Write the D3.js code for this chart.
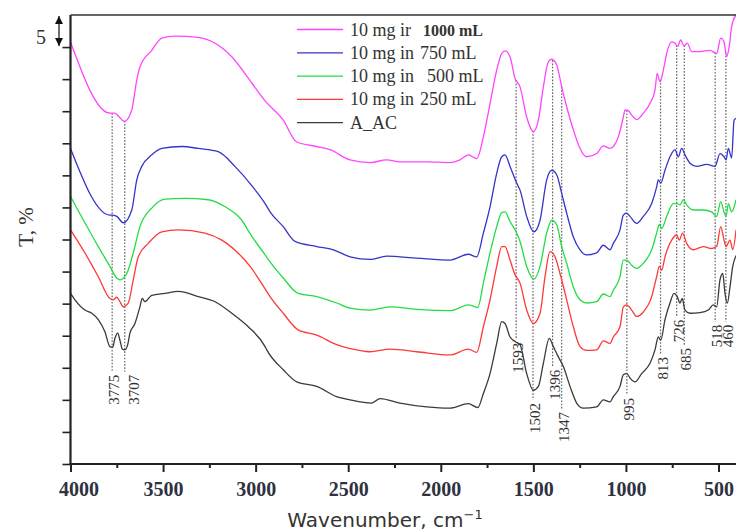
<!DOCTYPE html>
<html>
<head>
<meta charset="utf-8">
<script src="https://cdn.jsdelivr.net/npm/d3@7"></script>
<style>
  body { margin: 0; background: #fff; }
  svg { display: block; }
</style>
</head>
<body>
<svg id="drawing_region"></svg>
<script>
// spectra: [wavenumber cm-1, T %] (curves are stacked)
const s1000 = [[4000,65.8],[3787,54.7],[3776,54.7],[3760,54.7],[3743,54.3],[3709,53.4],[3669,55.2],[3642,59.9],[3625,61.9],[3561,64.5],[3507,66.4],[3436,66.7],[3311,66.5],[3219,65.6],[3129,63.5],[3021,59.4],[2949,56.6],[2851,53.6],[2778,50.2],[2670,49.5],[2598,49.0],[2490,47.4],[2382,47.0],[2292,47.4],[2220,47.1],[2076,47.1],[1950,47.0],[1896,47.4],[1851,48.2],[1806,47.6],[1770,51.0],[1734,56.2],[1698,61.4],[1671,64.0],[1653,64.4],[1626,63.5],[1599,60.1],[1572,58.8],[1536,54.1],[1500,51.8],[1473,53.6],[1446,58.8],[1419,62.7],[1401,63.1],[1374,62.2],[1347,58.8],[1320,55.7],[1284,52.1],[1248,49.2],[1212,47.9],[1158,48.4],[1122,49.6],[1086,49.2],[1068,49.5],[1041,51.0],[1014,54.1],[1005,55.2],[987,55.1],[969,54.4],[942,53.7],[906,54.7],[870,56.2],[843,58.3],[831,60.9],[816,59.6],[798,61.4],[780,64.0],[753,65.8],[735,65.6],[721,65.1],[704,66.1],[687,65.2],[669,65.6],[645,64.3],[600,64.3],[546,64.5],[510,64.0],[488,66.4],[470,65.8],[456,63.5],[442,65.1],[429,68.2],[405,70.0]];
const s750 = [[4000,49.2],[3787,38.8],[3776,38.8],[3750,38.6],[3715,37.6],[3669,39.6],[3642,44.3],[3615,46.4],[3561,48.2],[3507,49.2],[3399,49.5],[3310,49.2],[3202,48.7],[3112,46.4],[3021,43.4],[2949,40.6],[2922,39.3],[2851,37.0],[2787,34.7],[2670,33.9],[2580,33.4],[2490,32.3],[2382,31.9],[2292,32.4],[2130,32.1],[1950,31.8],[1851,32.7],[1806,32.3],[1770,36.0],[1734,40.1],[1698,45.3],[1671,47.9],[1653,48.2],[1626,46.4],[1590,43.8],[1572,42.7],[1536,38.6],[1497,36.2],[1464,38.0],[1428,44.3],[1401,45.8],[1374,45.1],[1347,42.2],[1320,39.1],[1284,35.4],[1248,33.4],[1212,32.6],[1158,32.9],[1122,34.1],[1086,33.4],[1068,34.4],[1032,36.5],[1014,38.8],[996,39.1],[978,38.6],[942,37.5],[906,38.6],[861,40.6],[834,43.2],[825,44.3],[812,43.8],[789,45.8],[762,47.9],[735,49.0],[717,47.9],[699,49.2],[681,48.2],[654,46.9],[618,46.4],[564,46.7],[519,46.4],[492,48.4],[470,47.9],[459,47.4],[447,49.2],[429,47.7],[416,53.6],[405,53.9]];
const s500 = [[4000,41.7],[3850,33.9],[3787,30.8],[3750,29.0],[3733,28.7],[3696,29.7],[3661,32.9],[3625,37.0],[3561,39.9],[3490,41.3],[3382,41.4],[3256,41.2],[3165,40.1],[3075,38.0],[3030,35.9],[2949,32.6],[2922,31.5],[2851,29.0],[2770,26.6],[2670,26.1],[2562,25.1],[2490,24.3],[2382,24.0],[2274,24.5],[2130,24.1],[1950,23.9],[1851,24.8],[1800,24.4],[1770,28.2],[1734,32.9],[1698,37.0],[1671,39.2],[1653,39.3],[1626,37.8],[1590,36.0],[1572,34.7],[1536,30.8],[1497,28.8],[1464,30.8],[1428,36.0],[1401,38.0],[1374,37.3],[1347,33.9],[1320,31.3],[1284,27.6],[1248,25.6],[1212,25.1],[1158,25.3],[1122,26.5],[1086,26.1],[1068,27.1],[1032,29.2],[1014,31.8],[996,31.8],[969,31.0],[942,30.5],[906,31.3],[861,33.4],[834,36.0],[820,37.3],[807,36.7],[780,38.6],[744,40.6],[723,40.6],[708,40.4],[690,41.2],[672,40.4],[636,39.6],[582,39.6],[537,39.3],[510,38.6],[488,40.9],[470,39.3],[459,38.6],[447,40.6],[429,39.3],[405,41.2]];
const s250 = [[4000,36.5],[3922,32.9],[3850,29.2],[3787,25.8],[3769,25.6],[3750,26.0],[3733,25.3],[3715,24.5],[3688,25.1],[3661,28.7],[3634,32.3],[3580,34.4],[3507,36.2],[3418,36.5],[3274,36.0],[3183,34.9],[3075,32.3],[3030,30.8],[2949,27.3],[2922,26.1],[2851,23.5],[2770,20.9],[2670,20.1],[2562,18.6],[2490,18.0],[2382,17.5],[2274,17.9],[2130,17.5],[1950,17.0],[1851,17.9],[1806,17.4],[1770,21.4],[1734,25.6],[1698,30.8],[1671,33.9],[1653,33.9],[1626,31.8],[1599,29.5],[1572,28.2],[1536,24.0],[1500,21.9],[1464,23.5],[1437,29.2],[1410,33.1],[1383,32.3],[1356,29.7],[1320,25.6],[1284,21.4],[1248,18.3],[1212,17.7],[1158,17.8],[1122,19.2],[1086,18.8],[1068,19.8],[1032,21.4],[1014,24.5],[996,24.8],[969,24.0],[942,23.0],[906,23.7],[861,26.1],[834,29.2],[820,30.8],[807,30.2],[789,32.3],[753,34.9],[726,35.7],[712,34.9],[694,36.0],[672,34.4],[636,33.4],[582,33.9],[537,33.6],[510,33.9],[488,37.0],[470,34.9],[459,33.9],[438,34.9],[423,33.4],[405,36.5]];
const sAAC = [[4000,26.6],[3976,25.6],[3922,24.0],[3885,23.5],[3850,22.5],[3814,20.6],[3787,18.3],[3772,18.2],[3760,19.6],[3745,20.4],[3733,19.3],[3720,17.9],[3706,17.8],[3691,18.6],[3679,20.4],[3652,21.9],[3625,24.5],[3612,25.8],[3598,25.3],[3561,26.3],[3490,26.6],[3418,26.9],[3310,26.1],[3219,25.3],[3129,23.5],[3040,21.4],[2949,18.3],[2940,17.8],[2851,14.7],[2778,12.8],[2670,12.1],[2562,10.5],[2490,10.0],[2373,9.5],[2328,10.2],[2220,9.5],[2076,8.9],[1950,8.7],[1851,9.4],[1800,8.8],[1770,11.0],[1734,14.1],[1698,18.8],[1671,22.2],[1653,21.9],[1626,19.8],[1599,19.1],[1572,18.6],[1536,14.1],[1500,11.5],[1473,12.1],[1446,15.7],[1414,19.6],[1392,18.3],[1365,16.7],[1338,15.2],[1302,12.1],[1266,9.5],[1230,8.7],[1158,8.9],[1122,10.0],[1086,9.7],[1068,10.5],[1032,12.1],[1014,13.9],[996,14.1],[978,13.4],[951,12.8],[915,14.1],[870,15.7],[843,17.8],[825,19.8],[812,19.3],[789,22.5],[762,25.1],[740,26.6],[723,26.1],[708,25.1],[696,25.8],[681,24.0],[654,23.5],[600,23.6],[555,24.0],[528,24.8],[510,24.5],[492,28.7],[477,29.7],[465,26.6],[452,25.1],[438,27.6],[423,30.8],[405,32.5]];

const seriesNames = ['10 mg ir 1000 mL', '10 mg in 750 mL', '10 mg in 500 mL', '10 mg in 250 mL', 'A_AC'];
const seriesData = [s1000, s750, s500, s250, sAAC];
const seriesColors = ['#ff44ff', '#3434c8', '#22dd44', '#ff3838', '#3a3a3a'];

// marked bands and the T level where each rotated label starts
const peakWn = [3775, 3707, 1593, 1502, 1396, 1347, 995, 813, 726, 685, 518, 460];
const peakLabelT = [13.9, 13.9, 18.9, 9.5, 14.7, 8.1, 10.3, 16.7, 22.5, 18.1, 21.7, 21.7];

const xMajor = [4000, 3500, 3000, 2500, 2000, 1500, 1000, 500];
const xMinor = [3750, 3250, 2750, 2250, 1750, 1250, 750];
const yTicks = d3.range(0, 70, 5);

const config = {
    width: 736,
    height: 531,
    left: 70.5, right: 718.5, top: 15, bottom: 464
};

const svg = d3.select('#drawing_region')
    .attr('width', config.width)
    .attr('height', config.height);

const x = d3.scaleLinear().domain([4000, 500]).range([config.left, config.right]);
const y = d3.scaleLinear().domain([0, 70]).range([config.bottom, config.top]);

// dotted band markers, from the top spectrum down to the label
const topSpectrum = s1000.slice().reverse();
const bis = d3.bisector(d => d[0]).left;
function topAt(w) {
    const i = bis(topSpectrum, w);
    const a = topSpectrum[i - 1], b = topSpectrum[i];
    const t = (w - a[0]) / (b[0] - a[0]);
    return a[1] + t * (b[1] - a[1]);
}

const marks = svg.append('g');
peakWn.forEach((w, i) => {
    marks.append('line')
        .attr('x1', x(w)).attr('x2', x(w))
        .attr('y1', y(topAt(w)))
        .attr('y2', y(peakLabelT[i]) - 3)
        .attr('stroke', '#666')
        .attr('stroke-width', 1.2)
        .attr('stroke-dasharray', '1.6,1.6');
    const nudge = w === 3707 ? 9 : 2;
    marks.append('text')
        .attr('transform', `translate(${x(w) + nudge},${y(peakLabelT[i])}) rotate(-90)`)
        .attr('text-anchor', 'end')
        .attr('dy', '0.35em')
        .attr('font-family', 'Liberation Serif, serif')
        .attr('font-size', '15px')
        .attr('fill', '#333')
        .text(w);
});

// spectra
const line = d3.line()
    .x(d => x(d[0]))
    .y(d => y(d[1]))
    .curve(d3.curveMonotoneX);

svg.append('g').selectAll('path')
    .data(seriesData)
    .enter()
    .append('path')
    .attr('d', line)
    .attr('fill', 'none')
    .attr('stroke', (d, i) => seriesColors[i])
    .attr('stroke-width', 1.3)
    .attr('stroke-linejoin', 'round');

// axes
const xAxis = svg.append('g')
    .attr('transform', `translate(0,${config.bottom})`)
    .call(d3.axisBottom(x).tickValues(xMajor).tickSize(8).tickSizeOuter(0).tickPadding(10).tickFormat(d3.format('d')));
xAxis.select('.domain').remove();
xAxis.selectAll('line').attr('stroke', '#222').attr('stroke-width', 2);
xAxis.selectAll('text')
    .attr('font-family', 'Liberation Serif, serif')
    .attr('font-weight', 'bold')
    .attr('font-size', '20px')
    .attr('fill', '#2e3140')
    .attr('dx', d => d === 4000 ? 8 : 0);

const xMinorAxis = svg.append('g')
    .attr('transform', `translate(0,${config.bottom})`)
    .call(d3.axisBottom(x).tickValues(xMinor).tickSize(4).tickFormat(''));
xMinorAxis.select('.domain').remove();
xMinorAxis.selectAll('line').attr('stroke', '#222').attr('stroke-width', 2);

const yAxis = svg.append('g')
    .attr('transform', `translate(${config.left},0)`)
    .call(d3.axisLeft(y).tickValues(yTicks).tickSize(8).tickSizeOuter(0).tickFormat(''));
yAxis.select('.domain').remove();
yAxis.selectAll('line').attr('stroke', '#222').attr('stroke-width', 1.6);

// frame: left, bottom and top lines
svg.append('line')
    .attr('x1', config.left).attr('x2', config.left)
    .attr('y1', config.top).attr('y2', config.bottom + 1)
    .attr('stroke', '#222').attr('stroke-width', 2.2);
svg.append('line')
    .attr('x1', config.left - 1).attr('x2', config.width)
    .attr('y1', config.bottom).attr('y2', config.bottom)
    .attr('stroke', '#222').attr('stroke-width', 2.2);
svg.append('line')
    .attr('x1', config.left).attr('x2', config.width)
    .attr('y1', config.top).attr('y2', config.top)
    .attr('stroke', '#333').attr('stroke-width', 1.5);

// scale bar "5"
svg.append('defs').append('marker')
    .attr('id', 'ah')
    .attr('viewBox', '0 0 10 10')
    .attr('refX', 10).attr('refY', 5)
    .attr('markerWidth', 7).attr('markerHeight', 7)
    .attr('orient', 'auto-start-reverse')
    .append('path')
    .attr('d', 'M0,0L10,5L0,10Z')
    .attr('fill', '#111');
svg.append('line')
    .attr('x1', 59).attr('x2', 59)
    .attr('y1', y(70) + 1).attr('y2', y(65) - 1)
    .attr('stroke', '#111').attr('stroke-width', 1.2)
    .attr('marker-start', 'url(#ah)')
    .attr('marker-end', 'url(#ah)');
svg.append('text')
    .attr('x', 41).attr('y', 44)
    .attr('text-anchor', 'middle')
    .attr('font-family', 'Liberation Serif, serif')
    .attr('font-size', '20px')
    .attr('fill', '#333')
    .text('5');

// axis titles
svg.append('text')
    .attr('transform', 'translate(33,227) rotate(-90)')
    .attr('text-anchor', 'middle')
    .attr('font-family', 'Liberation Serif, serif')
    .attr('font-size', '21px')
    .attr('fill', '#333')
    .text('T, %');

const xt = svg.append('text')
    .attr('x', 385).attr('y', 527)
    .attr('text-anchor', 'middle')
    .attr('font-family', 'DejaVu Sans, sans-serif')
    .attr('font-size', '20px')
    .attr('fill', '#333');
xt.append('tspan').text('Wavenumber, cm');
xt.append('tspan').attr('dy', -8).attr('font-size', '13px').text('\u22121');

// legend
const legend = svg.append('g').attr('transform', 'translate(297,29.5)');
seriesNames.forEach((name, i) => {
    const row = legend.append('g').attr('transform', `translate(0,${i * 23.3})`);
    row.append('line')
        .attr('x1', 0).attr('x2', 46)
        .attr('stroke', seriesColors[i])
        .attr('stroke-width', 1.3);
    const m = name.match(/^(.*?) (\d+ mL)$/);
    const t = row.append('text')
        .attr('x', 53).attr('y', 6)
        .attr('font-family', 'Liberation Serif, serif')
        .attr('font-size', '18px')
        .attr('fill', '#333');
    if (m) {
        t.append('tspan').text(m[1]);
        t.append('tspan')
            .attr('x', i === 0 ? 126 : (m[2].length > 6 ? 120 : 123 + (i === 2 ? 7 : 0)))
            .attr('font-weight', i === 0 ? 'bold' : 'normal')
            .attr('font-size', i === 0 ? '16px' : '18px')
            .text(m[2]);
    } else {
        t.text(name);
    }
});
</script>
</body>
</html>
